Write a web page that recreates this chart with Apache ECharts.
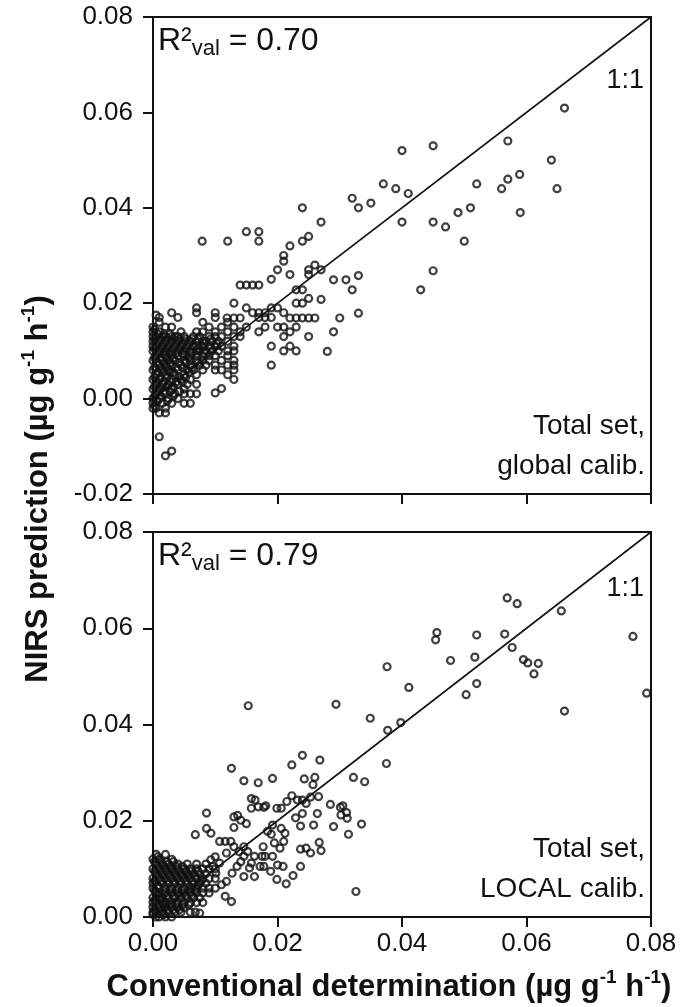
<!DOCTYPE html>
<html>
<head>
<meta charset="utf-8">
<script src="https://cdn.jsdelivr.net/npm/echarts@6/dist/echarts.min.js"></script>
<style>
  html, body { margin: 0; padding: 0; background: #fff; }
  #chart { width: 689px; height: 1007px; }
</style>
</head>
<body>
<div id="chart"></div>
<script>
// NIRS prediction vs conventional determination (µg g-1 h-1)

// Upper panel: total set, global calibration  [conventional, NIRS]
const globalCalib = [
  [0.0661,0.0609],[0.040,0.052],[0.045,0.053],[0.057,0.054],[0.064,0.050],[0.0649,0.044],
  [0.0589,0.047],[0.057,0.046],[0.056,0.044],[0.052,0.045],[0.051,0.040],[0.049,0.039],
  [0.059,0.039],[0.050,0.033],[0.047,0.036],[0.045,0.037],[0.040,0.037],[0.041,0.043],
  [0.039,0.044],[0.037,0.045],[0.035,0.041],[0.033,0.040],[0.032,0.042],[0.027,0.037],
  [0.024,0.040],[0.025,0.034],[0.024,0.033],[0.022,0.032],[0.017,0.035],[0.017,0.033],
  [0.015,0.035],[0.012,0.033],[0.0079,0.033],[0.021,0.030],
  [0.045,0.0268],[0.043,0.0228],[0.033,0.0258],[0.031,0.0249],[0.029,0.0249],[0.032,0.0228],
  [0.033,0.0179],[0.030,0.0169],[0.029,0.0140],[0.028,0.0099],[0.027,0.0208],
  [0.026,0.028],[0.027,0.027],[0.025,0.027],[0.025,0.026],
  [0.021,0.0288],[0.020,0.027],[0.022,0.026],[0.019,0.025],
  [0.014,0.0238],[0.015,0.0238],[0.016,0.0238],[0.017,0.0238],
  [0.024,0.0228],[0.023,0.0228],[0.024,0.020],[0.023,0.020],[0.025,0.021],[0.013,0.020],
  [0.0119,0.0169],[0.013,0.0169],[0.014,0.0169],[0.022,0.0169],[0.023,0.0169],[0.024,0.0169],
  [0.025,0.0169],[0.026,0.0169],
  [0.015,0.019],[0.016,0.018],[0.017,0.018],[0.018,0.018],[0.019,0.019],[0.020,0.019],
  [0.021,0.018],[0.019,0.017],[0.018,0.017],[0.017,0.017],
  [0.010,0.018],[0.010,0.017],[0.007,0.019],[0.007,0.018],[0.003,0.018],[0.004,0.017],
  [0.001,0.017],[0.008,0.016],[0.0005,0.0175],
  [0.017,0.014],[0.018,0.015],[0.020,0.015],[0.021,0.015],[0.022,0.014],[0.021,0.013],
  [0.023,0.015],[0.015,0.015],[0.014,0.014],[0.013,0.013],[0.014,0.013],
  [0.019,0.011],[0.019,0.007],[0.021,0.010],[0.022,0.011],[0.023,0.010],[0.025,0.013],
  [0.013,0.004],[0.010,0.0012],[0.011,0.0021],
  [0.007,0.003],[0.007,0.001],[0.006,0.001],[0.005,0.001],[0.006,-0.001],[0.005,-0.001],
  [0.003,-0.001],[0.002,-0.003],[0.001,-0.003],[0.000,-0.002],
  [0.001,-0.008],[0.002,-0.012],[0.003,-0.011],
  [0.013,0.007],[0.013,0.006],[0.012,0.007],[0.011,0.006],[0.012,0.005],
  // dense low-activity cluster
  [0,0.011],[0,0.012],[0,0.010],[0,0.008],[0,0.006],[0,0.004],[0,0.002],[0,0.000],
  [0,-0.001],[0,0.013],[0,0.015],[0,0.014],
  [0.0005,0.009],[0.0005,0.005],[0.0005,0.003],[0.0005,0.001],[0.0005,-0.002],[0.0005,0.011],[0.0005,0.013],
  [0.001,0.012],[0.001,0.010],[0.001,0.007],[0.001,0.004],[0.001,0.002],[0.001,0.000],[0.001,0.014],[0.001,0.016],
  [0.0015,0.011],[0.0015,0.008],[0.0015,0.006],[0.0015,0.003],[0.0015,-0.001],[0.0015,0.013],
  [0.002,0.013],[0.002,0.012],[0.002,0.009],[0.002,0.005],[0.002,0.001],[0.002,0.007],[0.002,0.010],
  [0.002,-0.002],[0.002,0.015],
  [0.0025,0.011],[0.0025,0.006],[0.0025,0.003],[0.0025,0.008],[0.0025,0.000],
  [0.003,0.013],[0.003,0.012],[0.003,0.010],[0.003,0.004],[0.003,0.007],[0.003,0.009],[0.003,0.002],[0.003,0.015],
  [0.0035,0.011],[0.0035,0.008],[0.0035,0.005],[0.0035,0.001],[0.0035,0.013],
  [0.004,0.013],[0.004,0.012],[0.004,0.009],[0.004,0.006],[0.004,0.003],[0.004,0.010],[0.004,0.000],
  [0.0045,0.011],[0.0045,0.007],[0.0045,0.004],[0.0045,0.014],
  [0.005,0.013],[0.005,0.012],[0.005,0.010],[0.005,0.008],[0.005,0.005],[0.005,0.002],[0.005,0.009],
  [0.0055,0.011],[0.0055,0.006],[0.0055,0.003],
  [0.006,0.012],[0.006,0.010],[0.006,0.008],[0.006,0.004],[0.006,0.007],[0.006,0.009],
  [0.0065,0.013],[0.0065,0.011],[0.0065,0.006],
  [0.007,0.012],[0.007,0.010],[0.007,0.009],[0.007,0.008],[0.007,0.005],[0.007,0.011],[0.007,0.014],
  [0.0075,0.010],[0.0075,0.007],[0.0075,0.013],
  [0.008,0.012],[0.008,0.011],[0.008,0.009],[0.008,0.008],[0.008,0.006],[0.008,0.014],
  [0.0085,0.010],[0.0085,0.012],[0.0085,0.007],
  [0.009,0.013],[0.009,0.011],[0.009,0.009],[0.009,0.008],[0.009,0.015],
  [0.0095,0.010],[0.0095,0.012],
  [0.010,0.013],[0.010,0.011],[0.010,0.009],[0.010,0.007],[0.010,0.014],[0.010,0.006],
  [0.0105,0.012],[0.0105,0.010],
  [0.011,0.013],[0.011,0.011],[0.011,0.008],[0.011,0.015],
  [0.012,0.012],[0.012,0.010],[0.012,0.014],[0.012,0.009],[0.012,0.016],
  [0.013,0.011],[0.013,0.015],[0.013,0.008],[0.013,0.010],
  [0.00025,-0.0015],[0.00025,0.0005],[0.00025,0.0025],[0.00025,0.0045],[0.00025,0.0065],
  [0.00025,0.0085],[0.00025,0.0105],[0.00025,0.0125],[0.00025,0.0145],
  [0.00075,-0.0005],[0.00075,0.0015],[0.00075,0.0035],[0.00075,0.0055],[0.00075,0.0075],
  [0.00075,0.0095],[0.00075,0.0115],[0.00075,0.0135],
  [0.00125,0.0005],[0.00125,0.0025],[0.00125,0.0045],[0.00125,0.0065],[0.00125,0.0085],
  [0.00125,0.0105],[0.00125,0.0125],
  [0.00175,0.0015],[0.00175,0.0035],[0.00175,0.0055],[0.00175,0.0075],[0.00175,0.0095],
  [0.00175,0.0115],[0.00175,0.0135],
  [0.00225,-0.0005],[0.00225,0.0025],[0.00225,0.0045],[0.00225,0.0065],[0.00225,0.0085],
  [0.00225,0.0105],[0.00225,0.0125],
  [0.00275,0.0015],[0.00275,0.0035],[0.00275,0.0055],[0.00275,0.0075],[0.00275,0.0095],
  [0.00275,0.0115],[0.00275,0.0135],
  [0.00325,0.0005],[0.00325,0.0025],[0.00325,0.0055],[0.00325,0.0085],[0.00325,0.0105],[0.00325,0.0125],
  [0.00375,0.0035],[0.00375,0.0065],[0.00375,0.0095],[0.00375,0.0115],
  [0.00425,0.0015],[0.00425,0.0045],[0.00425,0.0075],[0.00425,0.0105],[0.00425,0.0125],
  [0.00475,0.0035],[0.00475,0.0065],[0.00475,0.0095],[0.00475,0.0115],
  [0.00525,0.0045],[0.00525,0.0075],[0.00525,0.0105],[0.00525,0.0125],
  [0.00575,0.0055],[0.00575,0.0085],[0.00575,0.0115],
  [0.00625,0.0065],[0.00625,0.0095],[0.00625,0.0125],
  [0.00725,0.0075],[0.00725,0.0105],[0.00725,0.0125],
  [0.00825,0.0095],[0.00825,0.0115],
  [0.00925,0.0105],[0.00925,0.0125],
  [0.01025,0.0115]
];

// Lower panel: total set, LOCAL calibration  [conventional, NIRS]
const localCalib = [
  [0.0569,0.0663],[0.0585,0.0651],[0.0656,0.0636],[0.0771,0.0583],[0.0793,0.0465],[0.0661,0.0428],
  [0.0456,0.0591],[0.0454,0.0576],[0.0520,0.0586],[0.0565,0.0588],[0.0577,0.0560],[0.0517,0.0540],
  [0.0478,0.0533],[0.0595,0.0535],[0.0602,0.0528],[0.0619,0.0527],[0.0612,0.0505],[0.0520,0.0485],
  [0.0503,0.0462],[0.0376,0.0520],[0.0411,0.0477],[0.0153,0.0439],[0.0294,0.0442],[0.0349,0.0413],
  [0.0377,0.0388],[0.0398,0.0404],[0.0375,0.0319],[0.0126,0.0309],[0.0240,0.0336],[0.0223,0.0316],
  [0.0268,0.0326],[0.0146,0.0283],[0.0169,0.0279],[0.0192,0.0288],[0.0243,0.0287],[0.0260,0.0290],
  [0.0257,0.0275],[0.0322,0.0290],[0.0340,0.0281],[0.0086,0.0216],[0.0068,0.0171],
  [0.0086,0.0184],[0.0093,0.0174],[0.0107,0.0157],[0.0116,0.0157],[0.0125,0.0157],
  [0.0130,0.0208],[0.0136,0.0211],[0.0141,0.0201],[0.0150,0.0194],[0.0130,0.0186],
  [0.0158,0.0246],[0.0164,0.0243],[0.0158,0.0226],[0.0169,0.0229],[0.0178,0.0228],[0.0181,0.0231],
  [0.0199,0.0226],[0.0206,0.0226],[0.0215,0.0240],[0.0223,0.0252],[0.0232,0.0243],[0.0240,0.0243],
  [0.0246,0.0236],[0.0253,0.0249],[0.0266,0.0250],
  [0.0229,0.0206],[0.0237,0.0189],[0.0240,0.0215],[0.0258,0.0191],[0.0264,0.0215],[0.0285,0.0234],
  [0.0301,0.0228],[0.0305,0.0231],[0.0311,0.0217],[0.0302,0.0212],[0.0312,0.0205],[0.0290,0.0188],
  [0.0335,0.0193],[0.0314,0.0172],
  [0.0192,0.0191],[0.0206,0.0184],[0.0212,0.0174],[0.0190,0.0172],[0.0195,0.0154],[0.0204,0.0143],
  [0.0210,0.0157],[0.0184,0.0178],
  [0.0237,0.0141],[0.0246,0.0143],[0.0253,0.0133],[0.0267,0.0155],[0.0270,0.0138],
  [0.0175,0.0126],[0.0178,0.0105],[0.0189,0.0095],[0.0199,0.0078],[0.0214,0.0069],[0.0225,0.0086],
  [0.0237,0.0105],[0.0209,0.0105],
  [0.0326,0.0053],[0.0116,0.0043],[0.0126,0.0032],[0.0068,0.0010],
  [0.0118,0.0133],[0.0130,0.0146],[0.0138,0.0136],[0.0146,0.0126],[0.0158,0.0112],[0.0163,0.0084],
  [0.0146,0.0084],[0.0135,0.0105],[0.0127,0.0091],[0.0118,0.0074],[0.0110,0.0067],[0.0101,0.0091],
  [0.0096,0.0105],[0.0093,0.0119],[0.0107,0.0112],[0.0172,0.0105],[0.0180,0.0126],[0.0177,0.0146],
  [0.0192,0.0126],[0.0200,0.0108],[0.0146,0.0146],[0.0152,0.0136],[0.0141,0.0115],[0.0155,0.0102],
  [0.0163,0.0126],
  // dense low-activity cluster
  [0,0.0005],[0,0.002],[0,0.004],[0,0.006],[0,0.008],[0,0.010],[0,0.012],[0,0.001],[0,0.003],[0,0.007],
  [0.0005,0.001],[0.0005,0.003],[0.0005,0.005],[0.0005,0.009],[0.0005,0.011],[0.0005,0.013],[0.0005,0.000],
  [0.001,0.000],[0.001,0.002],[0.001,0.004],[0.001,0.006],[0.001,0.008],[0.001,0.010],[0.001,0.012],[0.001,0.005],
  [0.0015,0.001],[0.0015,0.003],[0.0015,0.007],[0.0015,0.009],[0.0015,0.011],[0.0015,0.004],
  [0.002,0.000],[0.002,0.002],[0.002,0.005],[0.002,0.006],[0.002,0.008],[0.002,0.010],[0.002,0.013],[0.002,0.003],
  [0.0025,0.001],[0.0025,0.004],[0.0025,0.007],[0.0025,0.009],[0.0025,0.011],
  [0.003,0.002],[0.003,0.003],[0.003,0.005],[0.003,0.006],[0.003,0.008],[0.003,0.010],[0.003,0.012],[0.003,0.000],
  [0.0035,0.001],[0.0035,0.004],[0.0035,0.007],[0.0035,0.009],
  [0.004,0.002],[0.004,0.003],[0.004,0.005],[0.004,0.006],[0.004,0.008],[0.004,0.010],[0.004,0.011],
  [0.0045,0.001],[0.0045,0.004],[0.0045,0.007],[0.0045,0.009],
  [0.005,0.002],[0.005,0.005],[0.005,0.006],[0.005,0.008],[0.005,0.010],[0.005,0.003],
  [0.0055,0.004],[0.0055,0.007],[0.0055,0.009],[0.0055,0.011],
  [0.006,0.003],[0.006,0.005],[0.006,0.006],[0.006,0.008],[0.006,0.010],[0.006,0.001],
  [0.0065,0.004],[0.0065,0.007],[0.0065,0.009],
  [0.007,0.003],[0.007,0.005],[0.007,0.006],[0.007,0.008],[0.007,0.010],[0.007,0.011],
  [0.0075,0.004],[0.0075,0.007],[0.0075,0.009],[0.0075,0.0008],
  [0.008,0.005],[0.008,0.006],[0.008,0.008],[0.008,0.010],[0.008,0.003],
  [0.0085,0.007],[0.0085,0.009],[0.0085,0.011],
  [0.009,0.005],[0.009,0.006],[0.009,0.008],[0.009,0.010],
  [0.010,0.006],[0.010,0.008],[0.010,0.010],[0.010,0.0125],
  [0.00025,0.0015],[0.00025,0.0035],[0.00025,0.0055],[0.00025,0.0075],[0.00025,0.0095],[0.00025,0.0115],
  [0.00075,0.0025],[0.00075,0.0045],[0.00075,0.0065],[0.00075,0.0085],[0.00075,0.0105],[0.00075,0.0125],
  [0.00125,0.0015],[0.00125,0.0035],[0.00125,0.0075],[0.00125,0.0095],[0.00125,0.0115],
  [0.00175,0.0025],[0.00175,0.0055],[0.00175,0.0085],[0.00175,0.0105],[0.00175,0.0005],
  [0.00225,0.0015],[0.00225,0.0045],[0.00225,0.0075],[0.00225,0.0095],[0.00225,0.0115],
  [0.00275,0.0025],[0.00275,0.0055],[0.00275,0.0085],[0.00275,0.0105],
  [0.00325,0.0015],[0.00325,0.0045],[0.00325,0.0075],[0.00325,0.0095],[0.00325,0.0115],
  [0.00375,0.0025],[0.00375,0.0055],[0.00375,0.0085],[0.00375,0.0105],
  [0.00425,0.0015],[0.00425,0.0045],[0.00425,0.0075],[0.00425,0.0095],
  [0.00475,0.0025],[0.00475,0.0055],[0.00475,0.0085],[0.00475,0.0105],
  [0.00525,0.0045],[0.00525,0.0075],[0.00525,0.0095],
  [0.00575,0.0025],[0.00575,0.0055],[0.00575,0.0085],
  [0.00625,0.0045],[0.00625,0.0075],[0.00625,0.0095],
  [0.00675,0.0055],[0.00675,0.0085],
  [0.00725,0.0065],[0.00725,0.0095],
  [0.00775,0.0075]
];

// 1:1 reference line
const oneToOne = [[0, 0], [0.08, 0.08]];

const panelLabels = [
  { r2: '0.70', lines: ['Total set,', 'global calib.'] },
  { r2: '0.79', lines: ['Total set,', 'LOCAL calib.'] }
];

const FONT = '"Liberation Sans", Arial, Helvetica, sans-serif';
const INK = '#111';

const fmt = v => (Math.abs(v) < 1e-9 ? 0 : v).toFixed(2);

const axisCommon = {
  type: 'value',
  interval: 0.02,
  axisLine: { show: true, onZero: false, lineStyle: { color: INK, width: 2 } },
  axisTick: { show: true, inside: false, length: 10, lineStyle: { color: INK, width: 2 } },
  splitLine: { show: false },
  axisLabel: { color: INK, fontFamily: FONT, fontSize: 26, formatter: fmt }
};

const grids = [
  { left: 153, top: 17, width: 498, height: 477 },
  { left: 153, top: 532, width: 498, height: 385 }
];

const scatterStyle = {
  type: 'scatter',
  symbol: 'circle',
  symbolSize: 7,
  itemStyle: { color: 'rgba(0,0,0,0)', borderColor: INK, borderWidth: 2.2 },
  silent: true
};

const lineStyle = {
  type: 'line',
  symbol: 'none',
  lineStyle: { color: INK, width: 1.6 },
  silent: true
};

function panelGraphics(i) {
  const g = grids[i];
  const rightEdge = g.left + g.width;
  const bottomEdge = g.top + g.height;
  return [
    {
      type: 'text', x: g.left + 5, y: g.top + 5,
      style: {
        text: '{m|R²}{s|val}{m| = ' + panelLabels[i].r2 + '}',
        align: 'left', verticalAlign: 'top',
        rich: {
          m: { fontFamily: FONT, fontSize: 32, fill: INK },
          s: { fontFamily: FONT, fontSize: 22, fill: INK, padding: [16, 0, 0, 0] }
        }
      }
    },
    {
      type: 'text', x: rightEdge - 7, y: g.top + (i === 0 ? 50 : 43),
      style: { text: '1:1', font: '27px ' + FONT, fill: INK, align: 'right', verticalAlign: 'top' }
    },
    {
      type: 'text', x: rightEdge - 6, y: bottomEdge - 68,
      style: { text: panelLabels[i].lines[0], font: '28px ' + FONT, fill: INK, align: 'right', verticalAlign: 'middle' }
    },
    {
      type: 'text', x: rightEdge - 6, y: bottomEdge - 28,
      style: { text: panelLabels[i].lines[1], font: '28px ' + FONT, fill: INK, align: 'right', verticalAlign: 'middle' }
    }
  ];
}

const supRich = {
  b: { fontFamily: FONT, fontSize: 31, fontWeight: 'bold', fill: INK },
  u: { fontFamily: FONT, fontSize: 19, fontWeight: 'bold', fill: INK, padding: [0, 0, 18, 0] }
};

const chart = echarts.init(document.getElementById('chart'), null, { renderer: 'canvas' });
chart.setOption({
  animation: false,
  backgroundColor: '#fff',
  grid: grids.map(g => Object.assign({ show: true, borderColor: INK, borderWidth: 2, backgroundColor: 'transparent' }, g)),
  xAxis: [
    Object.assign({}, axisCommon, { gridIndex: 0, min: 0, max: 0.08,
      axisLabel: Object.assign({}, axisCommon.axisLabel, { show: false }) }),
    Object.assign({}, axisCommon, { gridIndex: 1, min: 0, max: 0.08,
      axisLabel: Object.assign({}, axisCommon.axisLabel, { margin: 14 }) })
  ],
  yAxis: [
    Object.assign({}, axisCommon, { gridIndex: 0, min: -0.02, max: 0.08,
      axisLabel: Object.assign({}, axisCommon.axisLabel, { margin: 20 }) }),
    Object.assign({}, axisCommon, { gridIndex: 1, min: 0, max: 0.08,
      axisLabel: Object.assign({}, axisCommon.axisLabel, { margin: 20 }) })
  ],
  series: [
    Object.assign({}, lineStyle, { xAxisIndex: 0, yAxisIndex: 0, data: oneToOne }),
    Object.assign({}, scatterStyle, { xAxisIndex: 0, yAxisIndex: 0, data: globalCalib }),
    Object.assign({}, lineStyle, { xAxisIndex: 1, yAxisIndex: 1, data: oneToOne }),
    Object.assign({}, scatterStyle, { xAxisIndex: 1, yAxisIndex: 1, data: localCalib })
  ],
  graphic: [
    ...panelGraphics(0),
    ...panelGraphics(1),
    {
      type: 'text', x: 389, y: 987,
      style: {
        text: '{b|Conventional determination (µg g}{u|-1}{b| h}{u|-1}{b|)}',
        rich: supRich, align: 'center', verticalAlign: 'middle'
      }
    },
    {
      type: 'text', x: 38, y: 489, rotation: Math.PI / 2,
      style: {
        text: '{b|NIRS prediction (µg g}{u|-1}{b| h}{u|-1}{b|)}',
        rich: supRich, align: 'center', verticalAlign: 'middle'
      }
    }
  ]
});
</script>
</body>
</html>
